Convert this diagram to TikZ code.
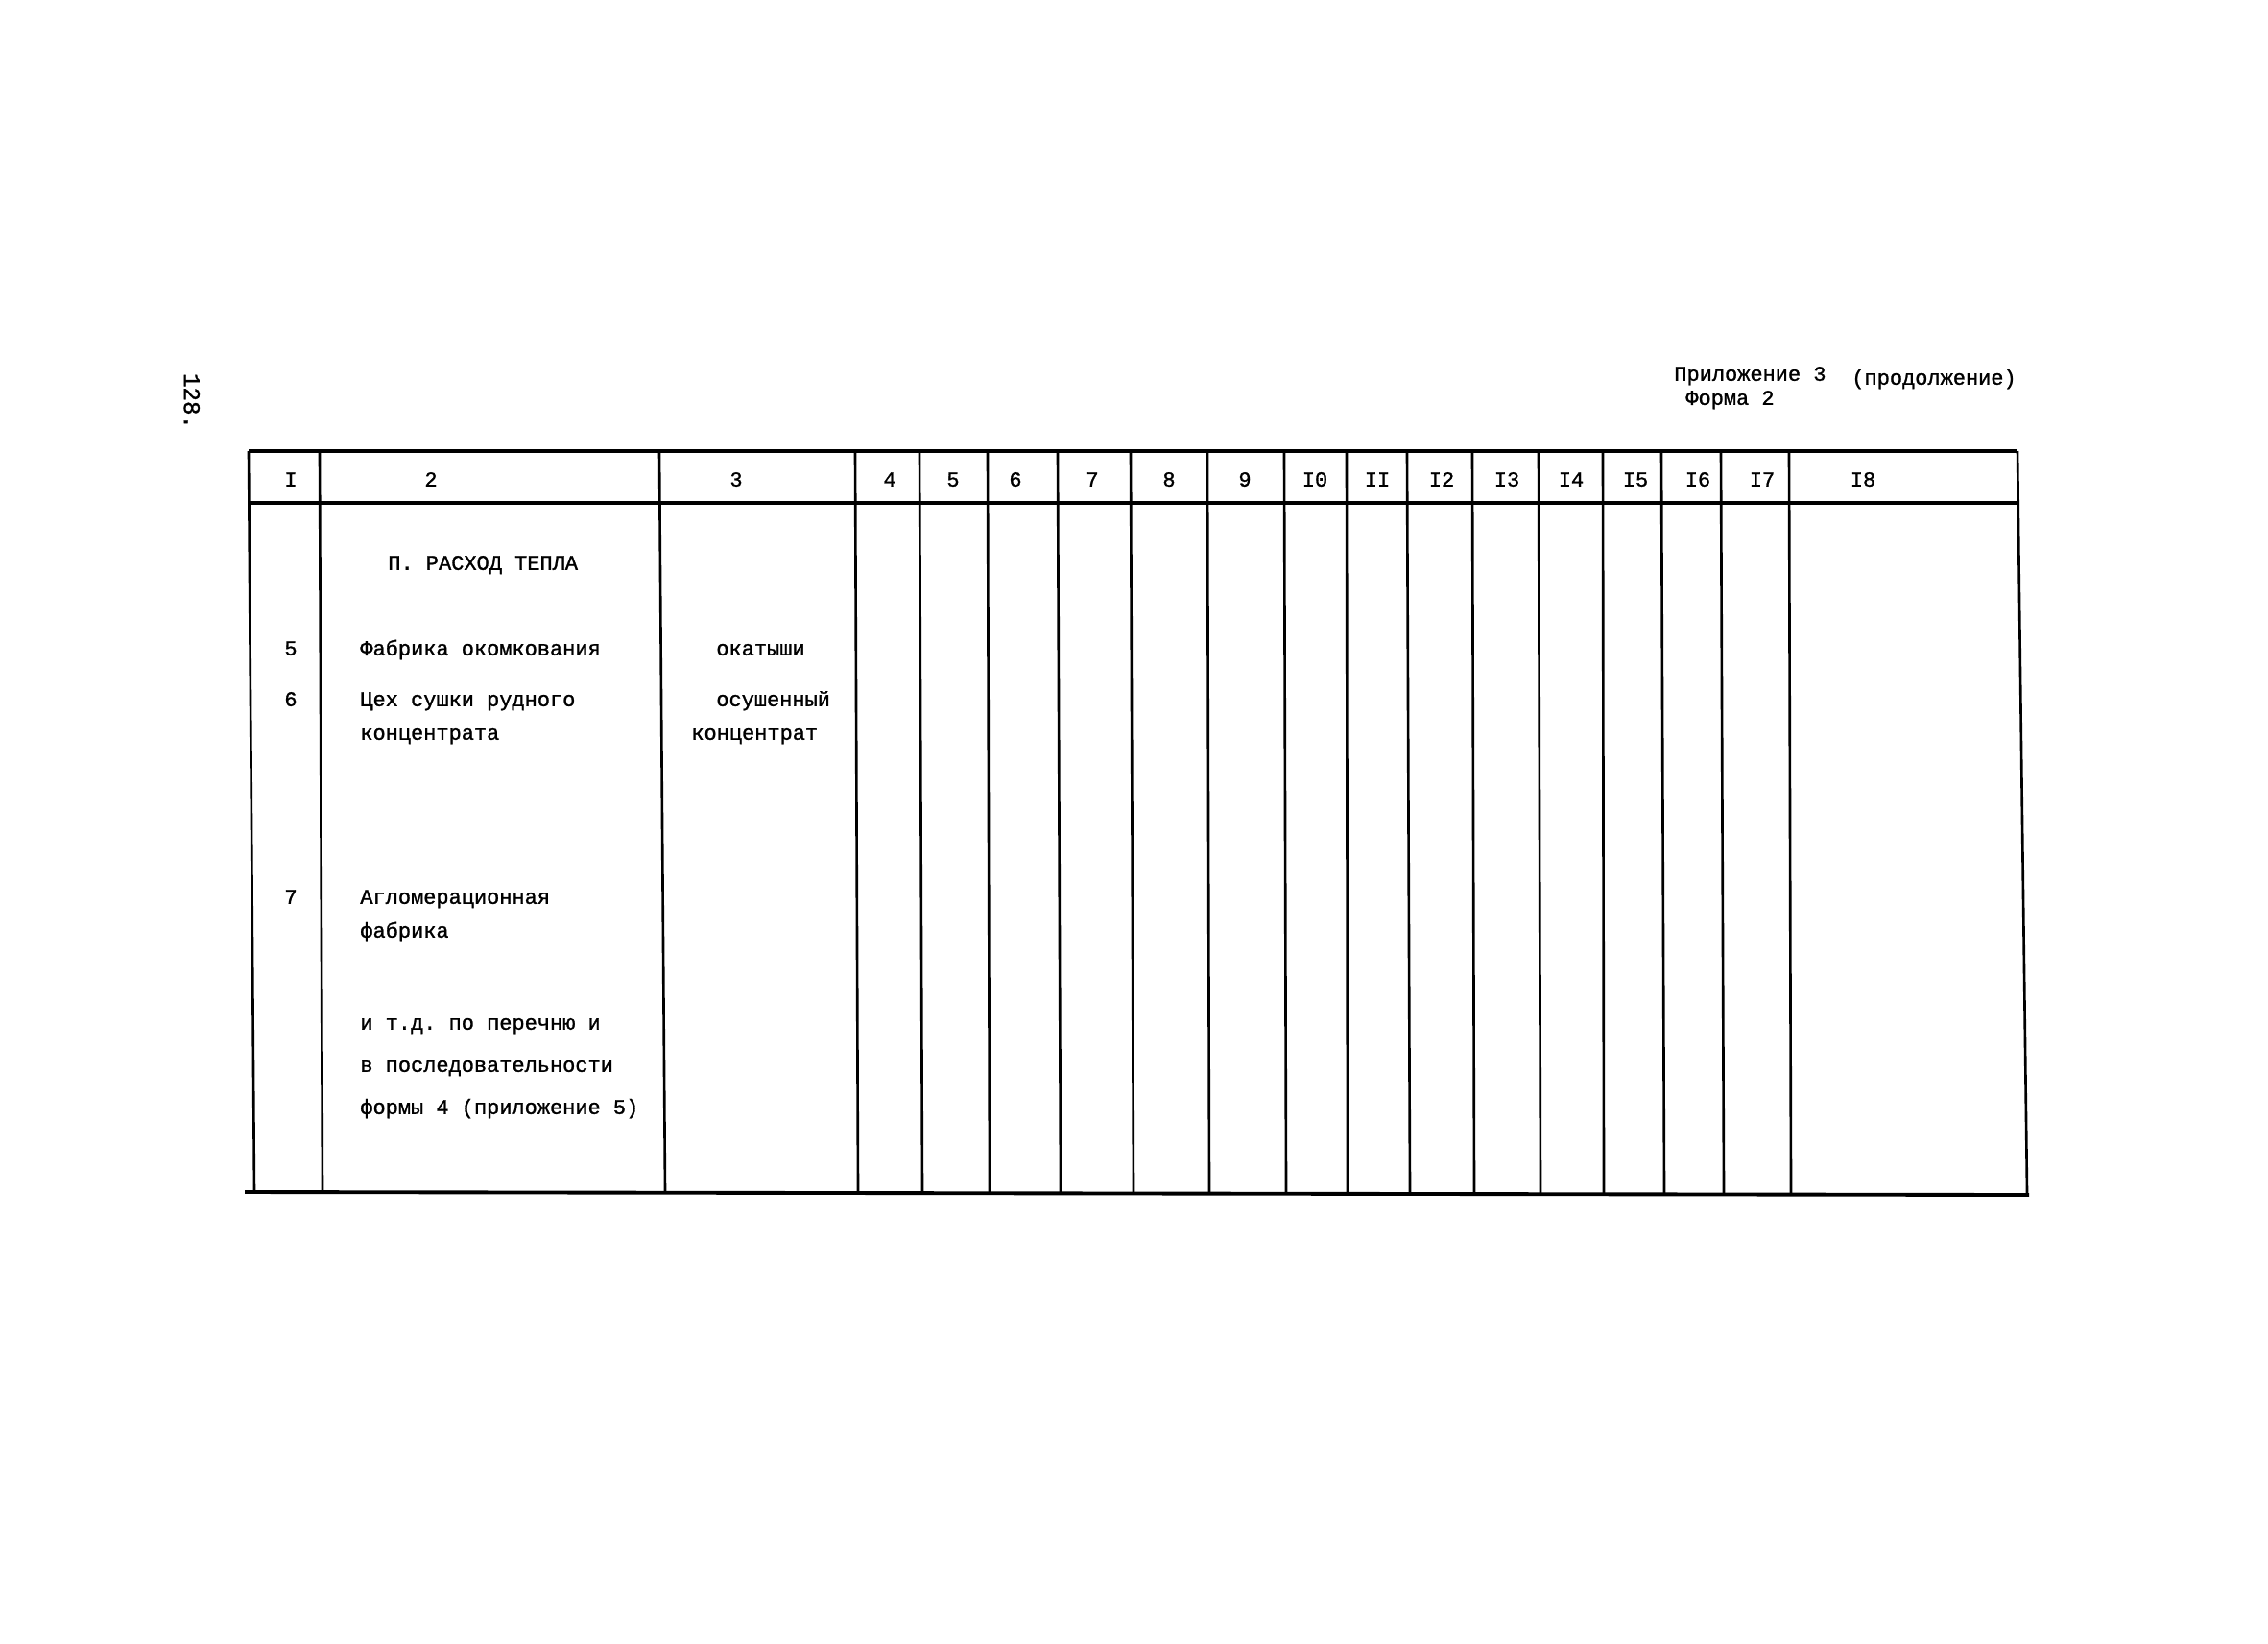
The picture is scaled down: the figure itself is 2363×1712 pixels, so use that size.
\documentclass[tikz,border=0pt]{standalone}
\usepackage{fontspec}
\setmonofont[FakeBold=1.2]{Liberation Mono}
\usetikzlibrary{positioning}
\newcommand{\tw}{\ttfamily\fontsize{12.5}{15}\selectfont}

\begin{document}
\begin{tikzpicture}[
    x=0.02cm, y=-0.02cm,
    txt/.style={font=\tw, inner sep=0pt, anchor=mid west},
    num/.style={font=\tw, inner sep=0pt, anchor=mid},
    rule/.style={line width=2.2pt},
    colline/.style={line width=1.5pt}
]
\useasboundingbox (0,0) rectangle (2363,1712);

% Page number and heading
\node[num, rotate=-90, scale=1.1] (page) at (196,418) {128.};
\node[txt] (pril) at (1744,393) {Приложение 3};
\node[txt] (prod) at (1929,397) {(продолжение)};
\node[txt] (forma) at (1756,418) {Форма 2};

% Table rules
\draw[rule] (259,470) -- (2102,470);
\draw[rule] (259,524) -- (2104,524);
\draw[rule] (255,1242) -- (2114,1245);
\foreach \a/\b in {259/265, 333/336, 687/693, 891/894, 958/961, 1029/1031, 1102/1105,
    1178/1181, 1258/1260, 1338/1340, 1403/1404, 1466/1469, 1534/1536, 1603/1605,
    1670/1671, 1731/1734, 1793/1796, 1864/1866, 2102/2112}
    \draw[colline] (\a,470) -- (\b,1243);

% Column numbers
\foreach \n/\x in {I/303, 2/449, 3/767, 4/927, 5/993, 6/1058, 7/1138, 8/1218, 9/1297,
    I0/1370, II/1435, I2/1502, I3/1570, I4/1637, I5/1704, I6/1769, I7/1836, I8/1941}
    \node[num] (head\x) at (\x,503) {\n};

% Section title
\node[txt] (title) at (404,590) {П. РАСХОД ТЕПЛА};

% Rows
\node[num] (no5) at (303,679) {5};
\node[txt] (fabr) at (375,679) {Фабрика окомкования};
\node[txt] (okat) at (746,679) {окатыши};

\node[num] (no6) at (303,732) {6};
\node[txt] (ceh) at (375,732) {Цех сушки рудного};
\node[txt, below=0.7cm of ceh.mid west, anchor=mid west] (ceh2) {концентрата};
\node[txt] (osush) at (746,732) {осушенный};
\node[txt] (konc) at (720,767) {концентрат};

\node[num] (no7) at (303,938) {7};
\node[txt] (aglo) at (375,938) {Агломерационная};
\node[txt, below=0.7cm of aglo.mid west, anchor=mid west] (aglo2) {фабрика};

\node[txt] (etc1) at (375,1069) {и т.д. по перечню и};
\node[txt, below=0.88cm of etc1.mid west, anchor=mid west] (etc2) {в последовательности};
\node[txt, below=0.88cm of etc2.mid west, anchor=mid west] (etc3) {формы 4 (приложение 5)};

\end{tikzpicture}
\end{document}
